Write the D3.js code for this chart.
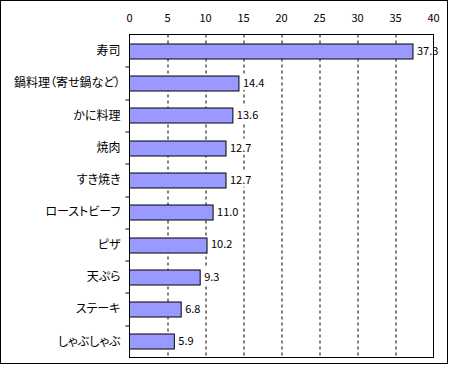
<!DOCTYPE html>
<html>
<head>
<meta charset="utf-8">
<script src="https://cdn.jsdelivr.net/npm/d3@7"></script>
<style>
  body { margin: 0; background: #fff; }
  text { font-family: "Noto Sans CJK JP", "DejaVu Sans", sans-serif; fill: #000; }
  .cat { font-feature-settings: "palt"; }
</style>
</head>
<body>
<div id="chart"></div>
<script>
// data
const categories = ["寿司", "鍋料理（寄せ鍋など）", "かに料理", "焼肉", "すき焼き", "ローストビーフ", "ピザ", "天ぷら", "ステーキ", "しゃぶしゃぶ"];
const values = [37.3, 14.4, 13.6, 12.7, 12.7, 11.0, 10.2, 9.3, 6.8, 5.9];
const xTicks = [0, 5, 10, 15, 20, 25, 30, 35, 40];

const width = 450, height = 365;
const margins = {left: 129.5, right: 16.5, top: 34.5, bottom: 7.5};
const w = width - margins.left - margins.right;
const h = height - margins.top - margins.bottom;

const svg = d3.select("#chart")
    .append("svg")
    .attr("width", width)
    .attr("height", height);

// outer frame
svg.append("rect")
    .attr("x", 0.5).attr("y", 0.5)
    .attr("width", 447).attr("height", 363)
    .attr("fill", "none").attr("stroke", "#000");

const g = svg.append("g")
    .attr("transform", "translate(" + margins.left + "," + margins.top + ")");

const x = d3.scaleLinear().domain([0, 40]).range([0, w]);
const y = d3.scaleBand().domain(categories).range([0, h]).paddingInner(0.54).paddingOuter(0.27);
const band = h / categories.length;

// dashed grid
g.selectAll(".grid")
    .data(xTicks.filter(d => d > 0 && d < 40))
    .enter().append("line")
    .attr("class", "grid")
    .attr("x1", d => Math.round(x(d)) + 0.5).attr("x2", d => Math.round(x(d)) + 0.5)
    .attr("y1", 0).attr("y2", h)
    .attr("stroke", "#000")
    .attr("stroke-dasharray", "3,3");

// top tick labels
g.selectAll(".xlab")
    .data(xTicks)
    .enter().append("text")
    .attr("class", "xlab")
    .attr("x", d => x(d))
    .attr("y", -13)
    .attr("text-anchor", "middle")
    .style("font-size", "11px")
    .text(d => d);

// bars
g.selectAll(".bar")
    .data(values)
    .enter().append("rect")
    .attr("class", "bar")
    .attr("x", 0)
    .attr("y", (d, i) => Math.round(y(categories[i])) + 0.5)
    .attr("width", d => x(d))
    .attr("height", Math.round(y.bandwidth()))
    .attr("fill", "#9999ff")
    .attr("stroke", "#000");

// value labels with white background
const vals = g.selectAll(".val")
    .data(values)
    .enter().append("g")
    .attr("class", "val")
    .attr("transform", (d, i) => "translate(" + (x(d) + 3) + "," + (y(categories[i]) + y.bandwidth() / 2) + ")");
const valText = vals.append("text")
    .attr("x", 1)
    .attr("dy", "0.36em")
    .style("font-size", "11px")
    .text(d => d.toFixed(1));
valText.each(function() {
    const b = this.getBBox();
    d3.select(this.parentNode).insert("rect", "text")
        .attr("x", b.x - 1).attr("y", b.y)
        .attr("width", b.width + 2).attr("height", b.height)
        .attr("fill", "#fff");
});

// category labels
g.selectAll(".cat")
    .data(categories)
    .enter().append("text")
    .attr("class", "cat")
    .attr("x", -9)
    .attr("y", d => y(d) + y.bandwidth() / 2)
    .attr("dy", "0.36em")
    .attr("text-anchor", "end")
    .style("font-size", "12px")
    .text(d => d);

// left axis ticks at category boundaries
g.selectAll(".ytick")
    .data(d3.range(1, categories.length))
    .enter().append("line")
    .attr("class", "ytick")
    .attr("x1", -4).attr("x2", 0)
    .attr("y1", d => Math.round(d * band) + 0.5).attr("y2", d => Math.round(d * band) + 0.5)
    .attr("stroke", "#000");

// plot frame
g.append("rect")
    .attr("x", 0).attr("y", 0)
    .attr("width", w).attr("height", h)
    .attr("fill", "none").attr("stroke", "#000");
</script>
</body>
</html>
